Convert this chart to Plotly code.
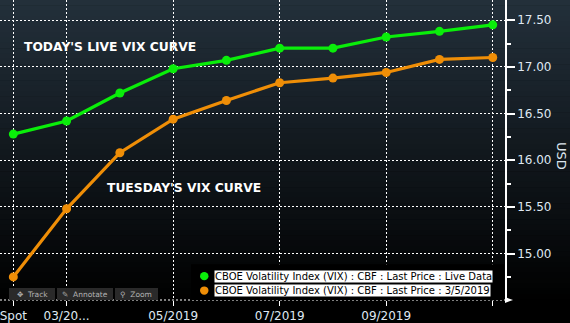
import plotly.graph_objects as go

# Term-structure points: spot followed by monthly futures
positions = [0, 1, 2, 3, 4, 5, 6, 7, 8, 9]
live_vix = [16.28, 16.42, 16.72, 16.98, 17.07, 17.20, 17.20, 17.32, 17.38, 17.45]
tuesday_vix = [14.75, 15.48, 16.08, 16.44, 16.64, 16.83, 16.88, 16.94, 17.08, 17.10]

tick_positions = [0, 1, 3, 5, 7, 9]
tick_labels = ["Spot", "03/20...", "05/2019", "07/2019", "09/2019", ""]
y_ticks = [15.0, 15.5, 16.0, 16.5, 17.0, 17.5]
y_tick_labels = ["15.00", "15.50", "16.00", "16.50", "17.00", "17.50"]

live_name = "CBOE Volatility Index (VIX) : CBF : Last Price : Live Data"
tues_name = "CBOE Volatility Index (VIX) : CBF : Last Price : 3/5/2019"

GREEN = "#0aee0a"
ORANGE = "#ef8e07"

W, H = 570, 323
L, R, T, B = 0, 65, 0, 21
PW, PH = W - L - R, H - T - B


def px(xp):
    return (xp - L) / PW


def py(yp):
    return (T + PH - yp) / PH


fig = go.Figure()
for name, vals, col in [(tues_name, tuesday_vix, ORANGE), (live_name, live_vix, GREEN)]:
    fig.add_trace(go.Scatter(
        x=positions, y=vals, name=name, mode="lines+markers",
        line=dict(color=col, width=3.2),
        marker=dict(color=col, size=9),
        showlegend=False,
    ))

shapes = []
# vertical background gradient across the whole canvas
n = 60
top = (35, 48, 59)
for i in range(n):
    y0p = H * i / n
    y1p = H * (i + 1) / n
    f = min(1.0, (y0p + y1p) / 2 / 305)
    c = tuple(int(round(v * (1 - f))) for v in top)
    shapes.append(dict(type="rect", xref="paper", yref="paper", layer="below",
                       x0=px(0), x1=px(W), y0=py(y1p + 0.5), y1=py(y0p),
                       fillcolor="rgb(%d,%d,%d)" % c, line=dict(width=0)))

# dotted bottom axis with arrow at its end
shapes.append(dict(type="line", xref="paper", yref="paper", x0=0, x1=1, y0=0, y1=0,
                   line=dict(color="white", width=1.2, dash="2px,2px")))
shapes.append(dict(type="path", xref="paper", yref="paper",
                   path="M %f %f L %f %f L %f %f Z" % (px(505), py(299), px(513), py(302), px(505), py(305)),
                   fillcolor="white", line=dict(width=0)))

# legend panel
shapes.append(dict(type="rect", xref="paper", yref="paper",
                   x0=px(191), x1=px(504), y0=py(302), y1=py(266),
                   fillcolor="black", line=dict(width=0)))
for yc, col in [(278, GREEN), (292.5, ORANGE)]:
    shapes.append(dict(type="circle", xref="paper", yref="paper",
                       x0=px(200), x1=px(208.5), y0=py(yc + 4.2), y1=py(yc - 4.2),
                       fillcolor=col, line=dict(width=0)))

# chart toolbar buttons
for x0, x1 in [(9, 55), (57, 113), (115, 158)]:
    shapes.append(dict(type="rect", xref="paper", yref="paper",
                       x0=px(x0), x1=px(x1), y0=py(302), y1=py(290),
                       fillcolor="#2a2a2a", line=dict(width=0)))

annotations = [
    dict(text="TODAY'S LIVE VIX CURVE", x=px(22), y=py(47), xref="paper", yref="paper",
         xanchor="left", yanchor="middle", showarrow=False,
         font=dict(family="DejaVu Sans", size=12.3, color="white", weight="bold")),
    dict(text="TUESDAY'S VIX CURVE", x=px(105), y=py(189), xref="paper", yref="paper",
         xanchor="left", yanchor="middle", showarrow=False,
         font=dict(family="DejaVu Sans", size=12.3, color="white", weight="bold")),
    dict(text="USD", x=px(561), y=py(157), xref="paper", yref="paper", textangle=90,
         xanchor="center", yanchor="middle", showarrow=False,
         font=dict(family="DejaVu Sans", size=13, color="#dde6ee")),
]
for yc, name in [(278, live_name), (292.5, tues_name)]:
    annotations.append(dict(text=name, x=px(214), y=py(yc), xref="paper", yref="paper",
                            xanchor="left", yanchor="middle", showarrow=False,
                            bgcolor="white", borderpad=0,
                            font=dict(family="DejaVu Sans", size=10, color="black")))
for xc, label in [(32, "\u2725  Track"), (85, "\u270e  Annotate"), (136, "\u26b2  Zoom")]:
    annotations.append(dict(text=label, x=px(xc), y=py(296), xref="paper", yref="paper",
                            xanchor="center", yanchor="middle", showarrow=False,
                            font=dict(family="DejaVu Sans", size=7.5, color="#b4b4b4")))

fig.update_layout(
    width=W, height=H,
    margin=dict(l=L, r=R, t=T, b=B, pad=0),
    paper_bgcolor="black", plot_bgcolor="rgba(0,0,0,0)",
    shapes=shapes, annotations=annotations,
    xaxis=dict(range=[-0.25, 9.23], tickmode="array", tickvals=tick_positions, ticktext=tick_labels,
               ticklabeloverflow="allow",
               showgrid=True, gridcolor="white", griddash="2px,2px", gridwidth=1,
               ticks="outside", ticklen=5, tickcolor="white", tickwidth=1,
               showline=False, zeroline=False,
               tickfont=dict(family="DejaVu Sans", size=12, color="#dfe8f2")),
    yaxis=dict(range=[14.503, 17.716], side="right", tickmode="array", tickvals=y_ticks, ticktext=y_tick_labels,
               showgrid=True, gridcolor="white", griddash="2px,2px", gridwidth=1,
               ticks="outside", ticklen=8, tickcolor="white", tickwidth=1.5,
               minor=dict(tickmode="array", tickvals=[14.75, 15.25, 15.75, 16.25, 16.75, 17.25],
                          ticks="outside", ticklen=4, tickcolor="white", showgrid=False),
               showline=True, linecolor="white", linewidth=1.5, zeroline=False,
               tickfont=dict(family="DejaVu Sans", size=12, color="#dfe8f2")),
)

fig.write_html("out.html")
